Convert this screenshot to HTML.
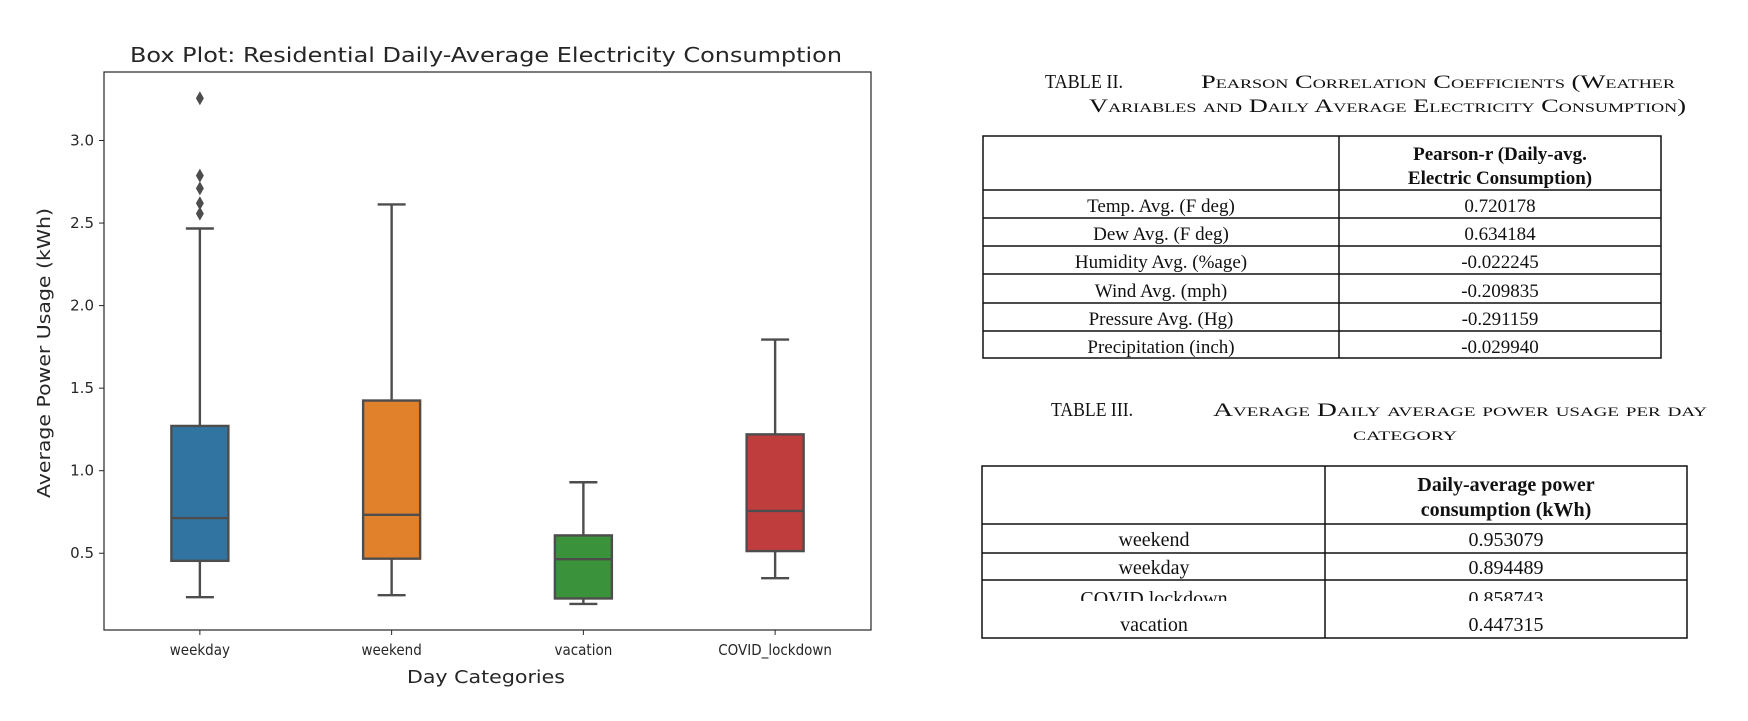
<!DOCTYPE html>
<html><head><meta charset="utf-8"><style>
html,body{margin:0;padding:0;background:#fff;}
svg{display:block;}
.mpl{font-family:"DejaVu Sans","Liberation Sans",sans-serif;fill:#262626;}
.tm{font-family:"Liberation Serif",serif;fill:#111;}
</style></head><body>
<svg id="fig" width="1748" height="721" viewBox="0 0 1748 721" xmlns="http://www.w3.org/2000/svg">
<rect width="1748" height="721" fill="#fff"/>
<g id="chart">
<text class="mpl" x="486" y="62" font-size="20" text-anchor="middle" textLength="712" lengthAdjust="spacingAndGlyphs">Box Plot: Residential Daily-Average Electricity Consumption</text>
<g id="boxes"></g>
<rect x="104" y="72" width="767" height="558" fill="none" stroke="#262626" stroke-width="1.2"/>
<g id="yticks"></g>
<g id="xticks"></g>
<text class="mpl" x="486" y="683" font-size="18" text-anchor="middle" textLength="158" lengthAdjust="spacingAndGlyphs">Day Categories</text>
<text class="mpl" x="0" y="0" font-size="18" text-anchor="middle" textLength="290" lengthAdjust="spacingAndGlyphs" transform="translate(50,353) rotate(-90)">Average Power Usage (kWh)</text>
</g>

<g class="tm">
<text x="1045" y="88" font-size="20" textLength="78" lengthAdjust="spacingAndGlyphs">TABLE  II.</text>
<text x="1201" y="88" font-size="19" style="font-variant:small-caps" textLength="474" lengthAdjust="spacingAndGlyphs">Pearson Correlation Coefficients (Weather</text>
<text x="1089" y="112" font-size="19" style="font-variant:small-caps" textLength="597" lengthAdjust="spacingAndGlyphs">Variables and Daily Average Electricity Consumption)</text>
<g fill="none" stroke="#111" stroke-width="1.5">
<rect x="983" y="136" width="678" height="222"/>
<line x1="1339" y1="136" x2="1339" y2="358"/>
<line x1="983" y1="190" x2="1661" y2="190"/>
<line x1="983" y1="218" x2="1661" y2="218"/>
<line x1="983" y1="246" x2="1661" y2="246"/>
<line x1="983" y1="274" x2="1661" y2="274"/>
<line x1="983" y1="303" x2="1661" y2="303"/>
<line x1="983" y1="331" x2="1661" y2="331"/>
</g>
<text x="1500" y="160" font-size="19" font-weight="bold" text-anchor="middle">Pearson-r (Daily-avg.</text>
<text x="1500" y="184" font-size="19" font-weight="bold" text-anchor="middle">Electric Consumption)</text>
<g font-size="19" text-anchor="middle">
<text x="1161" y="212">Temp. Avg.  (F deg)</text><text x="1500" y="212">0.720178</text>
<text x="1161" y="240">Dew Avg.  (F deg)</text><text x="1500" y="240">0.634184</text>
<text x="1161" y="268">Humidity Avg. (%age)</text><text x="1500" y="268">-0.022245</text>
<text x="1161" y="297">Wind Avg. (mph)</text><text x="1500" y="297">-0.209835</text>
<text x="1161" y="325">Pressure Avg. (Hg)</text><text x="1500" y="325">-0.291159</text>
<text x="1161" y="353">Precipitation (inch)</text><text x="1500" y="353">-0.029940</text>
</g>
</g>

<g class="tm">
<text x="1051" y="416" font-size="20" textLength="82" lengthAdjust="spacingAndGlyphs">TABLE  III.</text>
<text x="1213" y="416" font-size="19" style="font-variant:small-caps" textLength="494" lengthAdjust="spacingAndGlyphs">Average Daily average power usage per day</text>
<text x="1405" y="440" font-size="19" style="font-variant:small-caps" text-anchor="middle" textLength="104" lengthAdjust="spacingAndGlyphs">category</text>
<g fill="none" stroke="#111" stroke-width="1.5">
<rect x="982" y="466" width="705" height="172"/>
<line x1="1325" y1="466" x2="1325" y2="638"/>
<line x1="982" y1="524" x2="1687" y2="524"/>
<line x1="982" y1="553" x2="1687" y2="553"/>
<line x1="982" y1="580" x2="1687" y2="580"/>
</g>
<text x="1506" y="491" font-size="20" font-weight="bold" text-anchor="middle">Daily-average power</text>
<text x="1506" y="516" font-size="20" font-weight="bold" text-anchor="middle">consumption (kWh)</text>
<clipPath id="clipcovid"><rect x="982" y="580" width="705" height="21"/></clipPath>
<g font-size="20" text-anchor="middle">
<text x="1154" y="546">weekend</text><text x="1506" y="546">0.953079</text>
<text x="1154" y="574">weekday</text><text x="1506" y="574">0.894489</text>
<g clip-path="url(#clipcovid)"><text x="1154" y="605">COVID lockdown</text><text x="1506" y="605">0.858743</text></g>
<text x="1154" y="631">vacation</text><text x="1506" y="631">0.447315</text>
</g>
</g>
</svg>
<script>
const categories = ["weekday","weekend","vacation","COVID_lockdown"];
const whiskerLow = [0.234, 0.246, 0.193, 0.349];
const q1Values = [0.454, 0.467, 0.226, 0.513];
const medianValues = [0.713, 0.733, 0.464, 0.756];
const q3Values = [1.271, 1.425, 0.608, 1.220];
const whiskerHigh = [2.467, 2.613, 0.930, 1.794];
const outlierValues = [[3.256, 2.787, 2.71, 2.62, 2.557], [], [], []];
const boxColors = ["#3274a1","#e1812c","#3a923a","#c03d3e"];
const yTickValues = [0.5, 1.0, 1.5, 2.0, 2.5, 3.0];
const yTickLabels = ["0.5","1.0","1.5","2.0","2.5","3.0"];

const NS = "http://www.w3.org/2000/svg";
const plot = {left:104, right:871, top:72, bottom:630};
const yMin = 0.035, yMax = 3.415;
function yScale(v){ return plot.bottom - (v - yMin) / (yMax - yMin) * (plot.bottom - plot.top); }
const band = (plot.right - plot.left) / categories.length;
function xScale(i){ return plot.left + band * (i + 0.5); }
function mk(tag, attrs, parent){ const e = document.createElementNS(NS, tag); for (const k in attrs) e.setAttribute(k, attrs[k]); parent.appendChild(e); return e; }

const boxes = document.getElementById("boxes");
const lc = "#4d4d4d";
const bw = 57, cw = 28;
categories.forEach((c, i) => {
  const x = xScale(i);
  const g = mk("g", {}, boxes);
  
  
  const w1 = mk("line", {x1:x, x2:x, y1:yScale(whiskerLow[i]), y2:yScale(q1Values[i]), stroke:lc, "stroke-width":2.4}, g);
  
  
  const w2 = mk("line", {x1:x, x2:x, y1:yScale(q3Values[i]), y2:yScale(whiskerHigh[i]), stroke:lc, "stroke-width":2.4}, g);
  
  
  const c1 = mk("line", {x1:x-cw/2, x2:x+cw/2, y1:yScale(whiskerLow[i]), y2:yScale(whiskerLow[i]), stroke:lc, "stroke-width":2.4}, g);
  
  
  const c2 = mk("line", {x1:x-cw/2, x2:x+cw/2, y1:yScale(whiskerHigh[i]), y2:yScale(whiskerHigh[i]), stroke:lc, "stroke-width":2.4}, g);
  
  
  const r = mk("rect", {x:x-bw/2, y:yScale(q3Values[i]), width:bw, height:yScale(q1Values[i]) - yScale(q3Values[i]), fill:boxColors[i], stroke:lc, "stroke-width":2.4}, g);
  
  
  const m = mk("line", {x1:x-bw/2, x2:x+bw/2, y1:yScale(medianValues[i]), y2:yScale(medianValues[i]), stroke:lc, "stroke-width":2.4}, g);
  
  
  outlierValues[i].forEach(v => {
    const y = yScale(v);
    const d = mk("path", {d:`M${x} ${y-7} L${x+4} ${y} L${x} ${y+7} L${x-4} ${y} Z`, fill:lc}, g);
    
    
  });
});

const yt = document.getElementById("yticks");
yTickValues.forEach((v, i) => {
  const y = yScale(v);
  const t = mk("line", {x1:plot.left-5, x2:plot.left, y1:y, y2:y, stroke:"#262626", "stroke-width":1}, yt);
  
  
  const l = mk("text", {x:plot.left-10, y:y+5, "font-size":15, "text-anchor":"end", class:"mpl"}, yt);
  l.textContent = yTickLabels[i];
  
  
});
const xt = document.getElementById("xticks");
categories.forEach((c, i) => {
  const x = xScale(i);
  const t = mk("line", {x1:x, x2:x, y1:plot.bottom, y2:plot.bottom+5, stroke:"#262626", "stroke-width":1}, xt);
  
  
  const l = mk("text", {x:x, y:plot.bottom+25, "font-size":15, "text-anchor":"middle", class:"mpl", transform:`translate(${x},0) scale(0.9,1) translate(${-x},0)`}, xt);
  l.textContent = c;
  
  
});
</script>
</body></html>
